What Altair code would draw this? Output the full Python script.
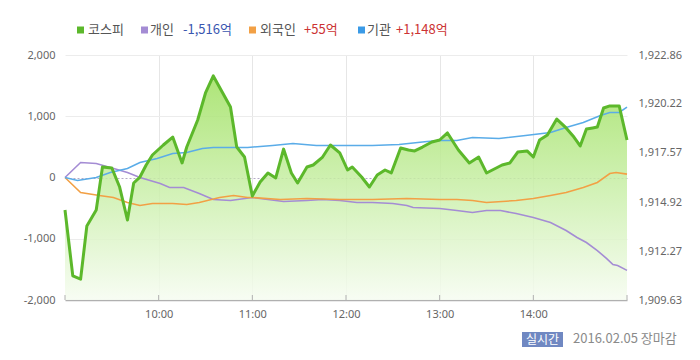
import altair as alt
import pandas as pd

# ---- data (x = minutes since 09:00) ----
kospi_min = [0, 5, 10, 14, 20, 24, 30, 35, 40, 44, 48, 52, 56, 63, 69, 75, 78, 85, 90, 95,
             106, 110, 115, 120, 125, 130, 135, 140, 145, 149, 155, 159, 165, 170, 176, 181,
             184, 190, 195, 200, 205, 209, 215, 220, 224, 229, 235, 240, 245, 252, 259, 265,
             270, 280, 285, 290, 296, 300, 304, 309, 315, 321, 326, 330, 334, 338, 341, 345,
             349, 355, 360]
kospi_val = [1914.49, 1910.93, 1910.76, 1913.63, 1914.49, 1916.81, 1916.76, 1915.73, 1913.95,
             1915.95, 1916.27, 1916.92, 1917.46, 1918.00, 1918.43, 1917.03, 1917.89, 1919.35,
             1920.81, 1921.73, 1920.05, 1917.89, 1917.35, 1915.25, 1916.00, 1916.49, 1916.22,
             1917.78, 1916.49, 1915.95, 1916.81, 1916.92, 1917.35, 1918.00, 1917.57, 1916.65,
             1916.81, 1916.27, 1915.73, 1916.38, 1916.65, 1916.49, 1917.84, 1917.73, 1917.68,
             1917.89, 1918.16, 1918.27, 1918.65, 1917.73, 1917.03, 1917.35, 1916.49, 1916.92,
             1917.03, 1917.62, 1917.68, 1917.35, 1918.27, 1918.54, 1919.40, 1918.92, 1918.43,
             1917.95, 1918.86, 1918.92, 1918.97, 1920.00, 1920.11, 1920.11, 1918.27]

indiv_min = [0, 10, 20, 29, 40, 48, 61, 67, 76, 86, 95, 106, 120, 140, 155, 165, 176, 187,
             197, 210, 219, 223, 240, 251, 261, 270, 279, 289, 300, 311, 321, 328, 334, 341,
             347, 351, 354, 360]
indiv_val = [0, 245, 229, 163, 82, 0, -98, -163, -163, -261, -360, -376, -327, -392, -376,
             -360, -376, -408, -408, -425, -457, -490, -507, -539, -572, -539, -539, -588,
             -654, -735, -866, -980, -1062, -1193, -1324, -1422, -1438, -1516]

foreign_min = [0, 10, 22, 31, 40, 48, 56, 69, 78, 86, 99, 108, 117, 120, 138, 155, 176, 197,
               219, 240, 251, 261, 270, 289, 300, 311, 321, 332, 341, 349, 353, 360]
foreign_val = [0, -245, -294, -327, -408, -457, -425, -425, -441, -408, -327, -294, -327,
               -327, -360, -343, -360, -360, -343, -360, -360, -376, -408, -376, -343, -294,
               -245, -163, -82, 65, 82, 55]

inst_min = [0, 8, 20, 29, 40, 48, 59, 69, 78, 88, 95, 108, 117, 133, 146, 161, 176, 197,
            214, 232, 240, 251, 261, 278, 295, 311, 321, 332, 343, 349, 355, 360]
inst_val = [0, -49, 0, 82, 147, 245, 310, 392, 408, 474, 490, 490, 490, 523, 556, 523, 523,
            523, 539, 588, 605, 605, 654, 637, 686, 735, 817, 899, 1013, 1062, 1062, 1148]

series_names = ["개인", "외국인", "기관"]
series_colors = ["#a48cd4", "#f2a045", "#5aace8"]

left_ticks = [-2000, -1000, 0, 1000, 2000]
right_ticks = [1909.63, 1912.27, 1914.92, 1917.57, 1920.22, 1922.86]
x_label_ticks = [60, 120, 180, 240, 300]
x_tick_marks = [0, 60, 120, 180, 240, 300, 360]

legend_labels = ["코스피", "개인", "외국인", "기관"]
legend_values = ["-1,516억", "+55억", "+1,148억"]
footer_badge = "실시간"
footer_text = "2016.02.05 장마감"

# ---- frames ----
kospi_df = pd.DataFrame({"t": kospi_min, "v": kospi_val})
inv_df = pd.concat([
    pd.DataFrame({"t": indiv_min, "v": indiv_val, "s": "개인"}),
    pd.DataFrame({"t": foreign_min, "v": foreign_val, "s": "외국인"}),
    pd.DataFrame({"t": inst_min, "v": inst_val, "s": "기관"}),
])
tick_df = pd.DataFrame({"t": x_tick_marks})
one = pd.DataFrame({"k": [0]})

W, H = 562, 245
LABEL_FONT = "Noto Sans"
KFONT = "Noto Sans CJK KR"

x_enc = alt.X(
    "t:Q",
    scale=alt.Scale(domain=[0, 360], nice=False),
    axis=alt.Axis(values=x_label_ticks, labelExpr="(9 + datum.value/60) + ':00'",
                  grid=True, gridColor="#e6e6e6", domainColor="#b0b0b0", domainWidth=1.5,
                  tickSize=0, labelPadding=8, labelColor="#666666", labelFont=LABEL_FONT,
                  labelFontSize=11, title=None),
)

right_scale = alt.Scale(domain=[1909.63, 1922.86], nice=False, zero=False)

gradient = alt.Gradient(
    gradient="linear",
    stops=[alt.GradientStop(color="#9fe060", offset=0),
           alt.GradientStop(color="#c9efa8", offset=0.5),
           alt.GradientStop(color="#f6fcf1", offset=1)],
    x1=1, x2=1, y1=0, y2=1,
)

area = alt.Chart(kospi_df).mark_area(color=gradient, opacity=0.85).encode(
    x=x_enc,
    y=alt.Y("v:Q", scale=right_scale,
            axis=alt.Axis(orient="right", values=right_ticks, format=",.2f", grid=False,
                          domain=False, ticks=False, labelPadding=11, labelColor="#666666",
                          labelFont=LABEL_FONT, labelFontSize=11, title=None)),
    y2=alt.datum(1909.63),
)

kline = alt.Chart(kospi_df).mark_line(color="#5cb82b", strokeWidth=3, strokeJoin="round").encode(
    x=x_enc,
    y=alt.Y("v:Q", scale=right_scale, axis=None),
)

inv = alt.Chart(inv_df).mark_line(strokeWidth=1.6).encode(
    x=x_enc,
    y=alt.Y("v:Q", scale=alt.Scale(domain=[-2000, 2000], nice=False),
            axis=alt.Axis(orient="left", values=left_ticks,
                          labelExpr="replace(format(datum.value, ',d'), '\u2212', '-')",
                          grid=True,
                          gridColor={"condition": {"test": "datum.value === 0", "value": "#b4aac6"},
                                     "value": "#ececec"},
                          gridDash={"condition": {"test": "datum.value === 0", "value": [2, 2]},
                                    "value": []},
                          domain=False, ticks=False, labelPadding=10, labelColor="#666666",
                          labelFont=LABEL_FONT, labelFontSize=11, title=None)),
    color=alt.Color("s:N", scale=alt.Scale(domain=series_names, range=series_colors), legend=None),
)

tick_rules = alt.Chart(tick_df).mark_rule(color="#b0b0b0", strokeWidth=1).encode(
    x=x_enc, y=alt.value(H - 5), y2=alt.value(H)
)


def txt(s, x, y, color, size=13, font=KFONT, align="left", weight="normal"):
    return alt.Chart(one).mark_text(text=s, align=align, baseline="middle", font=font,
                                    fontSize=size, color=color, fontWeight=weight).encode(
        x=alt.value(x), y=alt.value(y))


def box(x1, x2, y1, y2, color):
    return alt.Chart(one).mark_rect(color=color).encode(
        x=alt.value(x1), x2=alt.value(x2), y=alt.value(y1), y2=alt.value(y2))


LY = -25
square_x = [12, 76, 184, 293]
square_colors = ["#5cb82b", "#a48cd4", "#f2a045", "#3a9ae6"]
label_x = [23, 85, 195, 302]
value_x = [118, 239, 331]
value_colors = ["#3a56b0", "#cc3333", "#cc3333"]

annots = []
for i in range(4):
    annots.append(box(square_x[i], square_x[i] + 7, LY - 3.5, LY + 3.5, square_colors[i]))
    annots.append(txt(legend_labels[i], label_x[i], LY, "#555555"))
for i in range(3):
    annots.append(txt(legend_values[i], value_x[i], LY, value_colors[i]))

annots.append(box(457, 498, 277, 292, "#7088c2"))
annots.append(txt(footer_badge, 477.5, 284.5, "#ffffff", size=12, align="center"))
annots.append(txt(footer_text, 508, 284, "#8a8a8a", size=13))

left_group = alt.layer(inv, tick_rules, *annots)

chart = alt.layer(area, left_group, kline).resolve_scale(y="independent").properties(
    width=W, height=H,
    padding={"left": 57, "top": 47, "right": 65, "bottom": 50},
    autosize=alt.AutoSizeParams(type="none"),
    background="white",
).configure_view(stroke=None)

chart.save("out.html", embed_options={"renderer": "svg", "actions": False})
